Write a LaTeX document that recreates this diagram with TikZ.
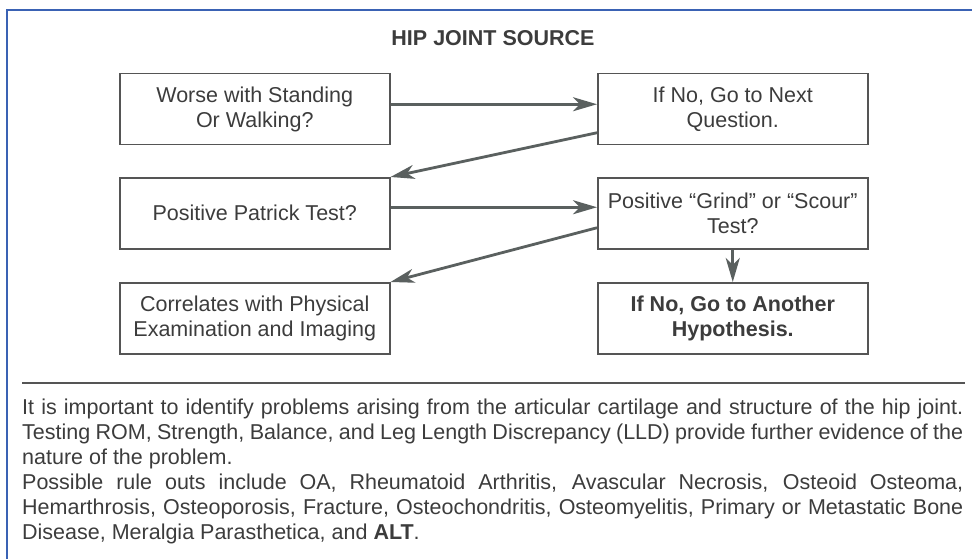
\documentclass[tikz,border=0pt]{standalone}
\usepackage{fontspec}
\setmainfont{Liberation Sans}
\usetikzlibrary{arrows.meta}
\definecolor{ink}{HTML}{3C3C3C}
\definecolor{boxline}{HTML}{555555}
\definecolor{arrowc}{HTML}{5A605F}
\definecolor{frameblue}{HTML}{3A62B4}
\begin{document}
\begin{tikzpicture}[x=1pt,y=-1pt,
  every node/.style={font=\fontsize{21.5}{25}\selectfont, text=ink},
  qbox/.style={draw=boxline, line width=1.5pt, minimum width=270pt, minimum height=71pt,
               align=center, inner sep=0pt, anchor=north west},
  flow/.style={draw=arrowc, line width=2.8pt, -{Stealth[length=24pt,width=14pt,inset=7pt]}},
  rule/.style={draw=boxline, line width=1.5pt},
  frame/.style={draw=frameblue, line width=2pt}]
\useasboundingbox (0,0) rectangle (972,559);
\draw[frame] (7,559) -- (7,10) -- (972,10);
\node[font=\fontsize{21.5}{25}\selectfont\bfseries] (title) at (493,38) {HIP JOINT SOURCE};
\node[qbox] (b1) at (119,73) {Worse with Standing\\Or Walking?};
\node[qbox] (b2) at (597,73) {If No, Go to Next\\Question.};
\node[qbox] (b3) at (119,177) {Positive Patrick Test?};
\node[qbox] (b4) at (597,177) {Positive “Grind” or “Scour”\\Test?};
\node[qbox] (b5) at (119,282) {Correlates with Physical\\Examination and Imaging};
\node[qbox, font=\fontsize{21.5}{25}\selectfont\bfseries] (b6) at (597,282) {If No, Go to Another\\Hypothesis.};
\draw[flow] ([yshift=5pt]b1.east) -- ([yshift=5pt]b2.west);
\draw[flow] ([yshift=-23.5pt]b2.west) -- (b3.north east);
\draw[flow] ([yshift=6pt]b3.east) -- ([yshift=6pt]b4.west);
\draw[flow] ([yshift=-14.5pt]b4.west) -- (b5.north east);
\draw[flow] (b4.south) -- (b6.north);
\draw[rule] (22,383) -- (965,383);
\node[anchor=north west, text width=941pt, align=justify, inner sep=0pt] (body) at (22,399)
{\parindent=0pt\parskip=0pt
It is important to identify problems arising from the articular cartilage and structure of the hip joint.\linebreak
Testing ROM, Strength, Balance, and Leg Length Discrepancy (LLD) provide further evidence of the\linebreak
nature of the problem.\par
Possible rule outs include OA, Rheumatoid Arthritis, Avascular Necrosis, Osteoid Osteoma,\linebreak
Hemarthrosis, Osteoporosis, Fracture, Osteochondritis, Osteomyelitis, Primary or Metastatic Bone\linebreak
Disease, Meralgia Parasthetica, and \textbf{ALT}.\par};
\end{tikzpicture}
\end{document}
